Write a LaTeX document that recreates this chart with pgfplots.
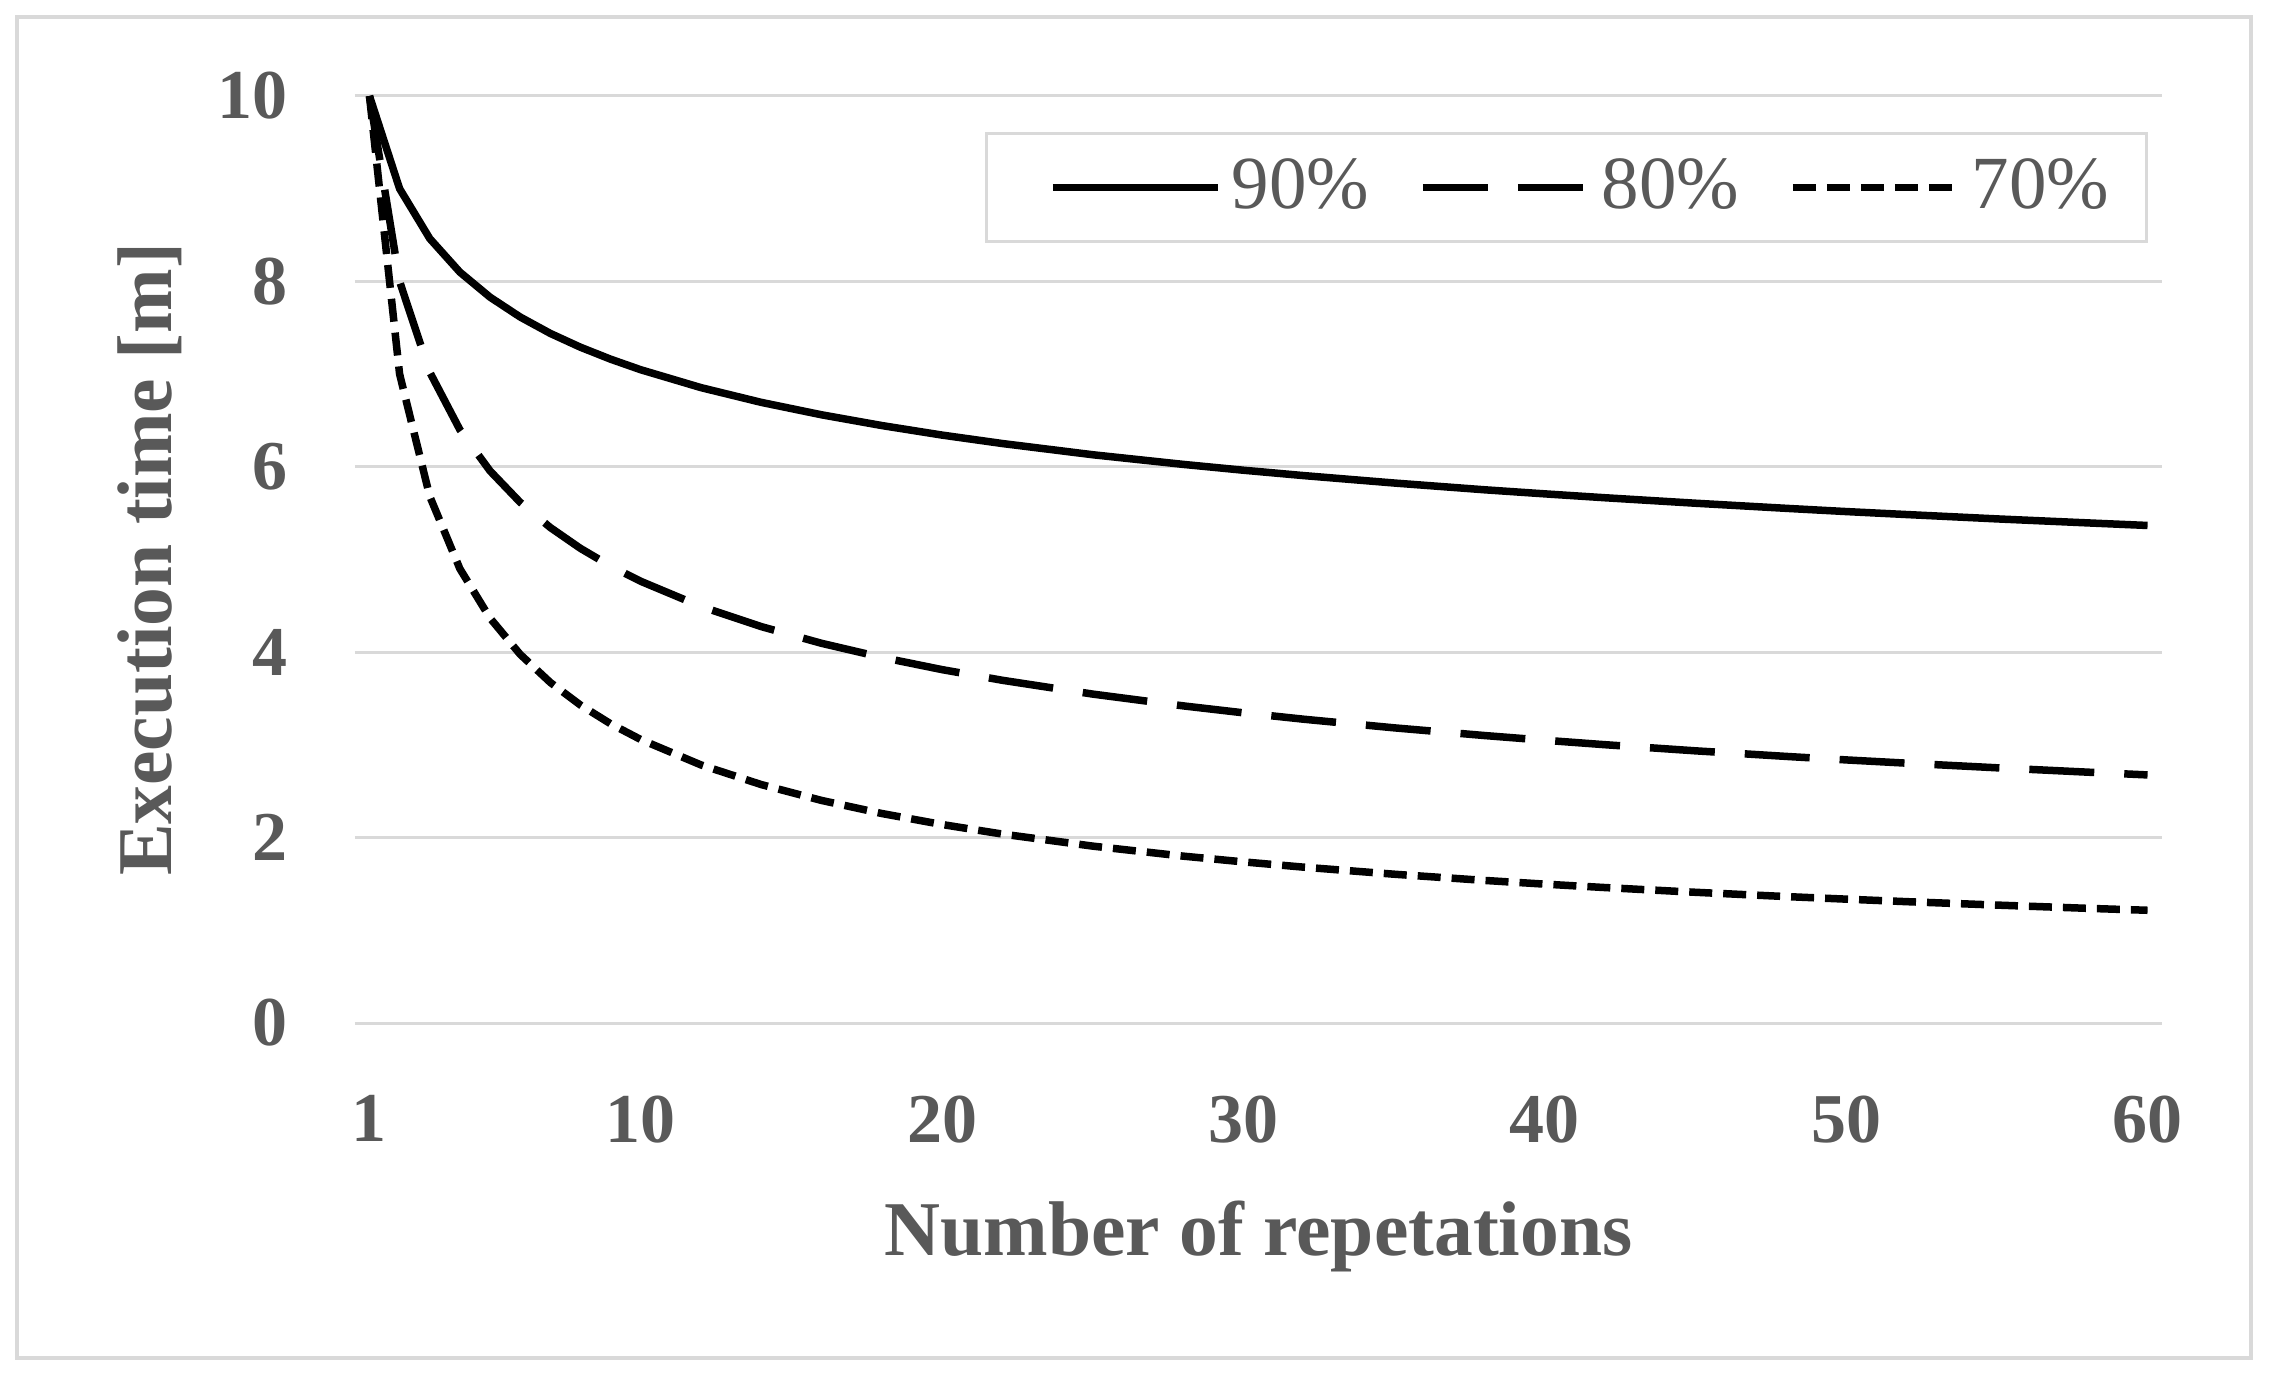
\documentclass[border=0pt]{standalone}
\usepackage{fontspec}
\setmainfont{Liberation Serif}
\usepackage{pgfplots}
\pgfplotsset{compat=1.18}
\definecolor{txt}{HTML}{595959}
\definecolor{grd}{HTML}{D9D9D9}
\begin{document}
\begin{tikzpicture}
\path[use as bounding box] (-71pt,-70.4pt) rectangle (383pt,204.6pt);
\draw[grd, line width=0.8pt] (-67.6pt,-67pt) rectangle (379.2pt,201.2pt);
\begin{axis}[
  at={(0pt,0pt)}, anchor=south west,
  scale only axis, width=361.4pt, height=185.4pt,
  xmin=0.52, xmax=60.48, ymin=0, ymax=10,
  clip=false,
  axis line style={draw=none}, tick style={draw=none},
  ytick={0,2,4,6,8,10}, xtick={1,10,20,30,40,50,60},
  ymajorgrids, grid style={grd, line width=0.6pt},
  /pgf/number format/assume math mode=true,
  tick label style={font=\fontsize{14}{16}\selectfont\bfseries, text=txt},
  yticklabel style={xshift=-10pt},
  xticklabel style={yshift=-11pt},
  xlabel={Number of repetations}, ylabel={Execution time [m]},
  label style={font=\fontsize{15.5}{18}\selectfont\bfseries, text=txt},
  xlabel style={at={(axis description cs:0.5,-0.2513)}, anchor=base},
  ylabel style={at={(axis description cs:-0.1018,0.5)}, anchor=base},
  legend columns=3,
  legend style={at={(0.9923,0.961)}, anchor=north east, draw=grd, line width=0.6pt,
    font=\fontsize{15}{18}\selectfont, text=txt, inner xsep=5.5pt, inner ysep=3pt,
    /tikz/every even column/.append style={column sep=1pt}},
  legend image code/.code={\path (-7pt,0pt); \draw[#1] (0pt,0pt) -- (33pt,0pt);},
]
\addplot[black, line width=1.5pt, line join=round] coordinates {
(1,10) (2,9.0) (3,8.462) (4,8.10) (5,7.830) (6,7.616) (7,7.439) (8,7.290) (9,7.161) (10,7.047)
(12,6.854) (14,6.695) (16,6.561) (18,6.445) (20,6.342) (22,6.251) (25,6.130) (28,6.026)
(30,5.963) (32,5.905) (35,5.825) (38,5.752) (40,5.708) (42,5.666) (45,5.607) (48,5.552)
(50,5.517) (52,5.485) (55,5.438) (58,5.395) (60,5.367)};
\addlegendentry{90\%}
\addplot[black, line width=1.5pt, line join=round, dash pattern=on 13pt off 6pt] coordinates {
(1,10) (2,8.0) (3,7.021) (4,6.40) (5,5.956) (6,5.617) (7,5.345) (8,5.12) (9,4.929) (10,4.765)
(12,4.493) (14,4.276) (16,4.096) (18,3.944) (20,3.812) (22,3.697) (25,3.548) (28,3.421)
(30,3.346) (32,3.277) (35,3.184) (38,3.101) (40,3.050) (42,3.002) (45,2.936) (48,2.876)
(50,2.838) (52,2.803) (55,2.753) (58,2.706) (60,2.676)};
\addlegendentry{80\%}
\addplot[black, line width=1.5pt, line join=round, dash pattern=on 4.6pt off 2.2pt] coordinates {
(1,10) (2,7.0) (3,5.682) (4,4.90) (5,4.368) (6,3.977) (7,3.674) (8,3.43) (9,3.228) (10,3.058)
(12,2.784) (14,2.572) (16,2.401) (18,2.260) (20,2.141) (22,2.038) (25,1.908) (28,1.800)
(30,1.738) (32,1.681) (35,1.605) (38,1.538) (40,1.498) (42,1.461) (45,1.410) (48,1.364)
(50,1.336) (52,1.309) (55,1.272) (58,1.237) (60,1.216)};
\addlegendentry{70\%}
\end{axis}
\end{tikzpicture}
\end{document}
